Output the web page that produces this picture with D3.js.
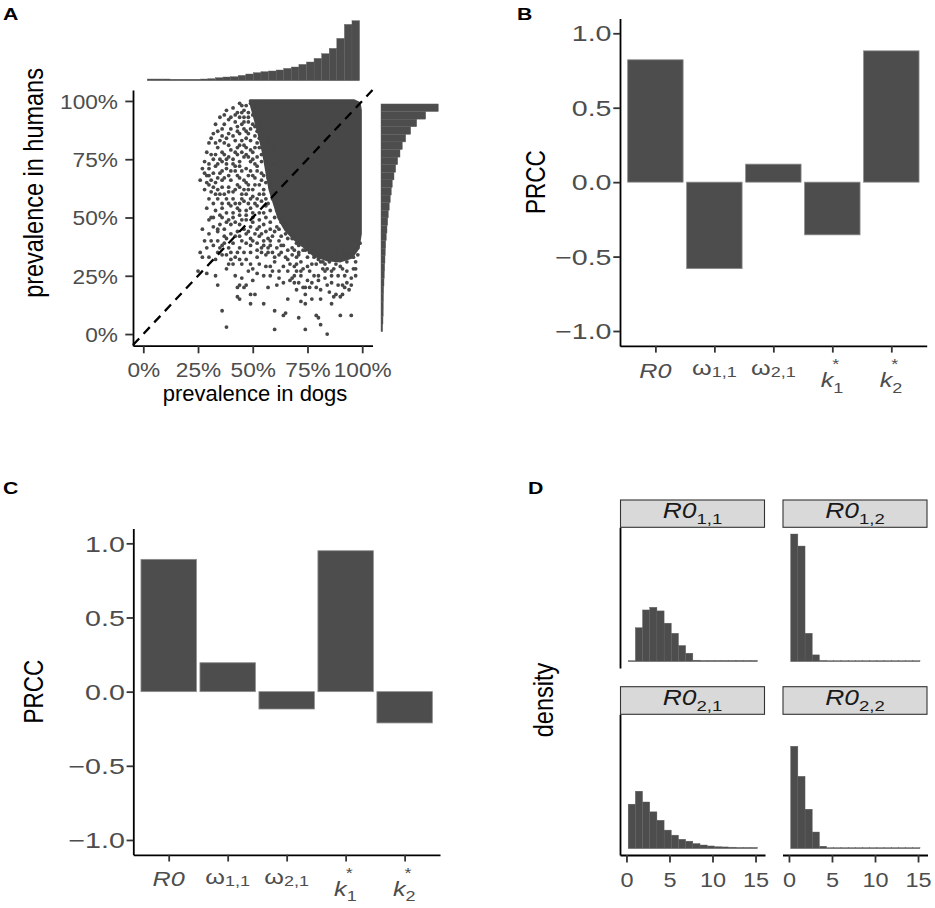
<!DOCTYPE html>
<html>
<head>
<meta charset="utf-8">
<script src="https://cdn.jsdelivr.net/npm/d3@7"></script>
<style>
    body { margin: 0; background: #fff; }
    text { font-family: "Liberation Sans", Arial, Helvetica, sans-serif; }
</style>
</head>
<body>
<svg id="fig" width="935" height="908"></svg>
<script>
"use strict";

// ---- panel A: prevalence in dogs vs humans (percent) ----
// outline of the saturated part of the point cloud [dogs, humans]
const cloudOutline = [
    [49, 100], [96, 100], [98.5, 99], [99, 96], [99, 43], [98, 37], [95, 33], [90, 31.5], [84, 32],
    [78, 34], [73, 38], [69, 41], [65, 45], [62, 50], [60, 56], [58, 62], [56.5, 70], [55, 78],
    [53, 86], [51, 93]
];
// individual points outside the saturated part
const scatterPoints = [
    [47,98],[46,96],[43,95],[44,93],[40,93],[39,92],[42,91],[45,90],[43,89],[40,88],[36,88],[36,85],
    [31,84],[38,84],[41,85],[44,86],[47,87],[49,88],[50,90],[52,93],[53,95],[55,96],[56,97],[58,95],
    [51,85],[49,83],[46,81],[43,80],[40,79],[36,78],[38,75],[41,75],[44,74],[47,77],[50,78],[53,80],
    [55,83],[56,85],[36,74],[33,72],[35,69],[30,68],[29,68],[33,65],[36,66],[39,68],[42,70],[44,67],
    [47,65],[49,70],[51,73],[54,74],[56,75],[59,78],[59,80],[36,63],[35,60],[38,58],[41,61],[44,63],
    [47,60],[50,62],[53,64],[56,65],[59,68],[61,71],[62,74],[40,55],[43,54],[46,57],[49,54],[52,55],
    [31,50],[35,51],[38,52],[44,51],[56,58],[59,61],[62,64],[65,67],
    [31,66],[32,63],[34,62],[30,64],[28,69],[45,98],[48,95],[50,97],[46,93],[48,91],[51,89],[53,91],
    [47,84],[52,82],[45,83],[43,77],[46,76],[49,74],[52,76],[42,72],[45,70],[48,68],[51,67],[54,69],
    [40,66],[43,64],[46,62],[49,58],[53,60],[55,62],[41,58],[44,56],[47,53],[50,52],[53,52],[56,55],
    [39,61],[34,80],[37,82],[33,77],[38,71],[35,75],
    [38,96],[41,97],[44,99],[42,94],[37,90],[39,86],[43,87],[46,88],[48,86],[34,87],[33,82],[35,83],
    [39,81],[42,83],[44,81],[47,80],[49,79],[51,80],[48,93],[46,91],[49,99],[45,95],[50,94],[52,87],
    [54,89],[53,84],[55,87],[57,90],[58,87],[57,83],
    [32,75],[34,73],[37,77],[39,76],[42,78],[45,78],[48,76],[50,75],[52,72],[54,77],[57,79],[58,73],
    [57,70],[55,68],[52,70],[50,68],[47,71],[44,72],[41,73],[38,73],[36,70],[37,67],[40,70],[43,68],
    [46,66],[48,64],[51,64],[54,66],[57,67],[58,63],[55,60],[52,58],[50,59],[48,62],[45,60],[42,62],
    [39,63],[37,60],[34,58],[36,56],[39,56],[42,56],[45,58],[48,56],[51,56],[54,57],[57,56],[59,58],
    [58,53],[55,52],[33,60],[31,61],[29,65],[32,69],[30,71],[34,67],
    [41,52],[44,53],[47,51],[50,50],[53,49],[56,50],[58,48],[60,50],[61,46],[58,45],[55,47],[52,45],
    [49,46],[46,45],[43,44],[40,43],[37,42],[42,48],[45,49],[48,44],[51,43],[54,43],[57,41],[60,44],
    [63,42],[64,38],[61,37],[58,38],[55,38],[52,36],[49,35],[46,35],[43,35],[44,42],[47,39],[50,40],
    [54,37],[57,35],[60,33],[63,35],
    [30,49],[32,50],[36,50],[39,49],[27,45],[34,45],[34,44],[37,45],[40,47],[44,47],[47,49],[50,48],
    [53,46],[56,44],[59,42],[62,45],[65,47],[26,35],[27,33],[35,37],[36,38],[39,37],[40,35],[36,34],
    [33,32],[44,37],[49,38],[52,39],[55,40],[58,40],[62,40],[66,41],[40,32],[39,30],[41,30],[44,32],
    [47,32],[49,30],[50,28],[53,30],[56,34],[59,35],[62,34],[65,33],[68,37],[71,38],[74,40],[78,37],
    [81,35],[84,34],[87,37],[90,38],[93,40],[96,41],[98,40],[25,27],[29,26],[33,25],[34,21],[44,21],
    [47,21],[55,25],[59,27],[61,21],[64,22],[68,24],[70,27],[73,28],[76,27],[79,30],[82,28],[85,31],
    [88,30],[91,28],[93,31],[96,28],[70,19],[73,20],[76,20],[79,20],[81,19],[85,18],[88,17],[91,21],
    [93,22],[43,16],[44,15],[49,17],[51,17],[49,13],[55,13],[72,14],[74,13],[81,15],[87,16],[90,16],
    [91,17],[36,10],[60,10],[64,8],[65,9],[71,7],[79,8],[80,7],[90,8],[95,8],[38,3],[60,2],[74,2],
    [81,4],[84,0],
    [67,30],[70,33],[72,31],[75,33],[77,30],[80,32],[83,30],[86,27],[89,33],[92,35],[94,33],[97,36],
    [69,22],[72,25],[75,23],[78,25],[80,23],[83,24],[86,22],[89,25],[92,25],[95,24],[97,31],[74,17],
    [77,15],[84,21],[86,13],[94,19],[66,36],[63,38],[60,31],[57,37],[54,35],[52,33],[58,29],[45,40],
    [42,42],[47,43],[49,41],[53,42],[31,40],[29,37],[38,41],[41,39],[46,20],[43,20],
    [66,27],[69,29],[71,34],[73,36],[76,38],[79,39],[82,38],[85,39],[88,35],[91,37],[94,38],[96,35],
    [98,37],[97,28],[93,27],[90,29],[87,28],[84,28],[81,31],[78,33],[75,29],[72,27],[69,25],[67,23],
    [71,22],[74,20],[77,22],[80,25],[83,27],[86,25],[89,21],[92,20],[95,21],[97,25],[62,27],[64,29],
    [66,32],[68,34],[70,30],
    [52,98],[54,99],[51,96],[54,93],[56,92],[55,90],[57,88],[59,91],[60,86],[58,84],[60,82],[57,81],
    [59,76],[61,77],[60,73],[62,70],[60,66],[63,67],[61,62],[64,61],[62,58],[63,55],[65,56],[61,53],
    [64,51],[66,50],[63,48],[66,46],[68,44],[65,43],[68,41],[70,39],[72,40],[69,36],[71,35],[74,36],
    [76,35],[78,36],[80,33],[82,31],[85,33],[88,32],[91,33],[93,34],[96,33],[98,34],[99,39],
    [35,93],[37,94],[33,90],[32,86],[30,82],[29,78],[31,77],[28,74],[30,73],[27,71],[26,66],[28,62],
    [30,58],[32,56],[29,54],[33,53],[36,54],[38,48],[41,50],[35,47],[32,46],[30,43],[28,40],[32,38],
    [34,40],[37,39],[30,33],[34,35],[38,34],[42,33],[45,30],[48,27],[52,26],[56,29],[58,25],[62,24],
    [42,25],[38,28],[45,24],[50,23],[57,20],[66,15]
];
const percentTicks = [0, 25, 50, 75, 100];
// marginal histograms (counts), bins in percent
const dogBinStart = 1.8, dogBinWidth = 3.464;
const dogCounts = [17, 17, 17, 15, 15, 15, 15, 17, 20, 30, 37, 40, 53, 67, 80, 90, 97, 107, 123, 137,
    163, 187, 223, 270, 323, 423, 563, 600];
const humanBinStart = 1.0, humanBinWidth = 3.257;
const humanCounts = [17, 20, 22, 23, 25, 27, 30, 33, 37, 40, 43, 47, 53, 60, 67, 73, 83, 93, 103, 113,
    130, 147, 167, 190, 213, 247, 297, 357, 447, 573];

// ---- panels B and C: PRCC ----
const params = ["R0", "w11", "w21", "k1", "k2"];
const prccB = [0.822, -0.581, 0.121, -0.354, 0.882];
const prccC = [0.892, 0.195, -0.117, 0.950, -0.211];
const prccTicks = [-1, -0.5, 0, 0.5, 1];

// ---- panel D: R0 densities ----
const r0BinStart = 0.2, r0BinWidth = 0.835;
const r0Dens11 = [0.004, 0.141, 0.215, 0.226, 0.211, 0.160, 0.118, 0.067, 0.035, 0.006, 0.005, 0.005,
    0.005, 0.005, 0.005, 0.005, 0.005, 0.005];
const r0Dens12 = [0.531, 0.481, 0.118, 0.028, 0.005, 0.004, 0.004, 0.004, 0.004, 0.004, 0.004, 0.004,
    0.004, 0.004, 0.004, 0.004, 0.004, 0.004];
const r0Dens21 = [0.185, 0.239, 0.194, 0.153, 0.118, 0.077, 0.056, 0.039, 0.031, 0.021, 0.015, 0.011,
    0.008, 0.007, 0.006, 0.005, 0.005, 0.005];
const r0Dens22 = [0.426, 0.301, 0.164, 0.069, 0.010, 0.004, 0.004, 0.004, 0.004, 0.004, 0.004, 0.004,
    0.004, 0.004, 0.004, 0.004, 0.004, 0.004];
const r0Ticks = [0, 5, 10, 15];

// -----------------------------------------------------------
const FONT = '"Liberation Sans", Arial, Helvetica, sans-serif';
const BAR = "#4d4d4d";
const svg = d3.select("#fig");

function addText(parent, x, y, str, o = {}) {
    const sx = o.sx || 1.2;   // glyphs in the reference are a bit wide
    const t = parent.append("text")
        .attr("transform", `translate(${x},${y}) scale(${sx},1)` + (o.rotate ? ` rotate(${o.rotate})` : ""))
        .attr("text-anchor", o.anchor || "middle")
        .attr("font-size", o.size || 21)
        .attr("fill", o.fill || "#000")
        .text(str);
    if (o.italic) t.attr("font-style", "italic");
    if (o.bold) t.attr("font-weight", "bold");
    return t;
}

function styleAxis(g, size) {
    g.attr("font-family", FONT).attr("font-size", size || 21);
    g.select(".domain").attr("stroke", "#000").attr("stroke-width", 1.8);
    g.selectAll(".tick line").attr("stroke", "#333").attr("stroke-width", 1.8);
    g.selectAll(".tick text").attr("fill", "#4d4d4d");
}

function leftLabels(g, off, sx) {
    g.selectAll(".tick text")
        .attr("x", null)
        .attr("dy", "0.35em")
        .attr("transform", `translate(${-off},0) scale(${sx},1)`);
}

function bottomLabels(g, off, sx) {
    g.selectAll(".tick text")
        .attr("y", null)
        .attr("dy", null)
        .attr("transform", `translate(0,${off}) scale(${sx},1)`);
}

// panel letters
addText(svg, 3, 20, "A", {anchor: "start", size: 17, bold: true, sx: 1.25});
addText(svg, 517, 19.5, "B", {anchor: "start", size: 17, bold: true, sx: 1.25});
addText(svg, 3, 494, "C", {anchor: "start", size: 17, bold: true, sx: 1.25});
addText(svg, 528, 494, "D", {anchor: "start", size: 17, bold: true, sx: 1.25});

// ================= panel A =================
(function () {
    const x = d3.scaleLinear().domain([-4.7, 104.7]).range([133, 372.5]);
    const y = d3.scaleLinear().domain([-5, 104.7]).range([345.7, 90]);
    const g = svg.append("g");

    g.append("path")
        .datum(cloudOutline)
        .attr("d", d3.line().x(d => x(d[0])).y(d => y(d[1])).curve(d3.curveLinearClosed))
        .attr("fill", "#474747")
        .attr("stroke", "#474747")
        .attr("stroke-width", 3.6)
        .attr("stroke-linejoin", "round");

    g.append("g").selectAll("circle")
        .data(scatterPoints)
        .join("circle")
        .attr("cx", d => x(d[0]))
        .attr("cy", d => y(d[1]))
        .attr("r", 1.9)
        .attr("fill", "#474747");

    g.append("path")
        .datum([[-4.7, -4.7], [104.7, 104.7]])
        .attr("d", d3.line().x(d => x(d[0])).y(d => y(d[1])))
        .attr("stroke", "#000")
        .attr("stroke-width", 2.3)
        .attr("stroke-dasharray", "9,6.5")
        .attr("fill", "none");

    const yAxis = g.append("g")
        .attr("transform", "translate(133,0)")
        .call(d3.axisLeft(y).tickValues(percentTicks).tickFormat(d => d + "%").tickSize(7.7).tickSizeOuter(0));
    styleAxis(yAxis);
    leftLabels(yAxis, 15, 1.08);

    const xAxis = g.append("g")
        .attr("transform", "translate(0,345.7)")
        .call(d3.axisBottom(x).tickValues(percentTicks).tickFormat(d => d + "%").tickSize(7.6).tickSizeOuter(0));
    styleAxis(xAxis);
    bottomLabels(xAxis, 31, 1.08);

    // top marginal: dogs
    const yTop = d3.scaleLinear().domain([0, 600]).range([80.7, 20.7]);
    g.append("g").selectAll("rect")
        .data(dogCounts)
        .join("rect")
        .attr("x", (d, i) => x(dogBinStart + i * dogBinWidth))
        .attr("width", (d, i) => x(dogBinStart + (i + 1) * dogBinWidth) - x(dogBinStart + i * dogBinWidth))
        .attr("y", d => yTop(d))
        .attr("height", d => yTop(0) - yTop(d))
        .attr("fill", BAR)
        .attr("stroke", "#5e5e5e")
        .attr("stroke-width", 0.4);

    // right marginal: humans
    const xRight = d3.scaleLinear().domain([0, 573]).range([381, 438.3]);
    g.append("g").selectAll("rect")
        .data(humanCounts)
        .join("rect")
        .attr("x", xRight(0))
        .attr("width", d => xRight(d) - xRight(0))
        .attr("y", (d, i) => y(humanBinStart + (i + 1) * humanBinWidth))
        .attr("height", (d, i) => y(humanBinStart + i * humanBinWidth) - y(humanBinStart + (i + 1) * humanBinWidth))
        .attr("fill", BAR)
        .attr("stroke", "#5e5e5e")
        .attr("stroke-width", 0.4);

    addText(g, 43, 183, "prevalence in humans", {size: 23.5, rotate: -90});
    addText(g, 255, 401, "prevalence in dogs", {size: 22, sx: 1.0});
})();

// ================= panels B and C =================
function paramLabel(g, key, cx, y0) {
    if (key === "R0") {
        addText(g, cx, y0 + 31.6, "R0", {italic: true, fill: "#4d4d4d"});
    } else if (key === "w11" || key === "w21") {
        const t = addText(g, cx, y0 + 29.5, "", {fill: "#4d4d4d"});
        t.append("tspan").text("ω");
        t.append("tspan").attr("font-size", 15).attr("dy", 1.5).text(key === "w11" ? "1,1" : "2,1");
    } else {
        const sub = key === "k1" ? "1" : "2";
        addText(g, cx + 1, y0 + 41.3, "k", {anchor: "end", italic: true, fill: "#4d4d4d"});
        addText(g, cx + 1, y0 + 46.6, sub, {anchor: "start", size: 15, fill: "#4d4d4d"});
        addText(g, cx, y0 + 22.8, "*", {anchor: "start", size: 15, fill: "#4d4d4d"});
    }
}

function prccPanel(left, right, top, bottom, values, titleX) {
    const x = d3.scalePoint().domain(params).range([left, right]).padding(0.6);
    const y = d3.scaleLinear().domain([-1.1, 1.1]).range([bottom, top]);
    const g = svg.append("g");
    const bw = x.step() * 0.94;

    g.append("g").selectAll("rect")
        .data(values)
        .join("rect")
        .attr("x", (d, i) => x(params[i]) - bw / 2)
        .attr("width", bw)
        .attr("y", d => y(Math.max(0, d)))
        .attr("height", d => Math.abs(y(d) - y(0)))
        .attr("fill", BAR)
        .attr("stroke", "#8c8c8c")
        .attr("stroke-width", 0.8);

    const yAxis = g.append("g")
        .attr("transform", `translate(${left},0)`)
        .call(d3.axisLeft(y).tickValues(prccTicks).tickFormat(d3.format(".1f")).tickSize(6.7).tickSizeOuter(0));
    styleAxis(yAxis, 22);
    leftLabels(yAxis, 8.5, 1.3);

    const xAxis = g.append("g")
        .attr("transform", `translate(0,${bottom})`)
        .call(d3.axisBottom(x).tickFormat("").tickSize(6.7).tickSizeOuter(0));
    styleAxis(xAxis);
    params.forEach(p => paramLabel(g, p, x(p), bottom));

    addText(g, titleX, (top + bottom) / 2, "PRCC", {size: 22.5, rotate: -90, sx: 1.25});
}

prccPanel(620, 926.7, 18.4, 345.9, prccB, 545);
prccPanel(133.3, 440, 528.5, 854.8, prccC, 43.3);

// ================= panel D =================
(function () {
    const cols = [[620, 765], [782.5, 927.5]];
    const rows = [{strip: [500, 527.3], panel: [527.3, 668]}, {strip: [686.7, 714.3], panel: [714.3, 855]}];
    const facets = [
        {row: 0, col: 0, sub: "1,1", dens: r0Dens11},
        {row: 0, col: 1, sub: "1,2", dens: r0Dens12},
        {row: 1, col: 0, sub: "2,1", dens: r0Dens21},
        {row: 1, col: 1, sub: "2,2", dens: r0Dens22}
    ];
    const g = svg.append("g");

    facets.forEach(f => {
        const [c0, c1] = cols[f.col];
        const r = rows[f.row];
        const x = d3.scaleLinear().domain([-0.75, 16.1]).range([c0, c1]);
        const y = d3.scaleLinear().domain([-0.0266, 0.559]).range([r.panel[1], r.panel[0]]);

        g.append("g").selectAll("rect")
            .data(f.dens)
            .join("rect")
            .attr("x", (d, i) => x(r0BinStart + i * r0BinWidth))
            .attr("width", (d, i) => x(r0BinStart + (i + 1) * r0BinWidth) - x(r0BinStart + i * r0BinWidth))
            .attr("y", d => y(d))
            .attr("height", d => y(0) - y(d))
            .attr("fill", BAR)
            .attr("stroke", "#5e5e5e")
            .attr("stroke-width", 0.4);

        // strip
        g.append("rect")
            .attr("x", c0 + 0.5).attr("y", r.strip[0])
            .attr("width", c1 - c0 - 1).attr("height", r.strip[1] - r.strip[0])
            .attr("fill", "#d9d9d9").attr("stroke", "#333").attr("stroke-width", 1.1);
        const t = addText(g, (c0 + c1) / 2, r.strip[0] + 18.3, "", {fill: "#1a1a1a", size: 22});
        t.append("tspan").attr("font-style", "italic").text("R0");
        t.append("tspan").attr("font-size", 15.5).attr("dy", 6).text(f.sub);

        if (f.col === 0) {
            const ya = g.append("g")
                .attr("transform", `translate(${c0},0)`)
                .call(d3.axisLeft(y).tickValues([]).tickSizeOuter(0));
            styleAxis(ya);
        }
        if (f.row === 1) {
            const xa = g.append("g")
                .attr("transform", `translate(0,${r.panel[1]})`)
                .call(d3.axisBottom(x).tickValues(r0Ticks).tickFormat(d3.format("d")).tickSize(7.5).tickSizeOuter(0));
            styleAxis(xa);
            bottomLabels(xa, 31.7, 1.12);
        }
    });

    addText(g, 553, 700, "density", {size: 23.5, rotate: -90});
})();
</script>
</body>
</html>
